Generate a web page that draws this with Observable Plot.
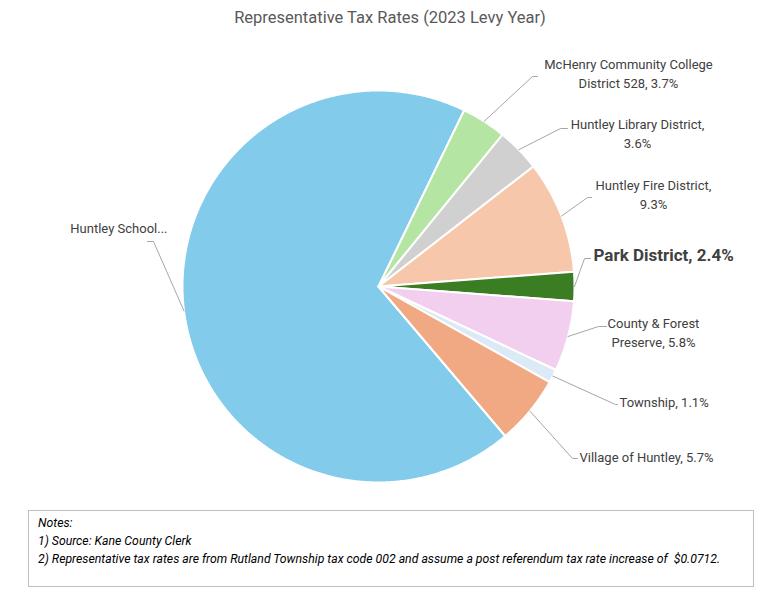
<!DOCTYPE html>
<html><head><meta charset="utf-8">
<script src="https://cdn.jsdelivr.net/npm/d3@7"></script>
<script src="https://cdn.jsdelivr.net/npm/@observablehq/plot@0.6"></script>
<style>
body{margin:0;background:#fff;width:780px;height:600px;position:relative;overflow:hidden;font-family:Roboto,sans-serif;}
#title{position:absolute;top:8px;left:0;width:780px;text-align:center;font-size:16.5px;color:#595959;line-height:20px;}
#chart{position:absolute;top:36px;left:0;}
#notes{position:absolute;left:28px;top:510px;width:726px;height:77px;border:1px solid #bfbfbf;box-sizing:border-box;padding:3px 0 0 9px;}
#notes div{font-family:Roboto,sans-serif;font-style:italic;font-size:12.5px;color:#000;line-height:18px;white-space:nowrap;transform:scaleX(0.98);transform-origin:0 0;}
</style></head><body>
<div id="title">Representative Tax Rates (2023 Levy Year)</div>
<div id="chart"></div>
<div id="notes"><div>Notes:<br>1) Source: Kane County Clerk<br>2) Representative tax rates are from Rutland Township tax code 002 and assume a post referendum tax rate increase of &nbsp;$0.0712.</div></div>
<script>
// ---- data ----
const categories = ["Huntley School District", "McHenry Community College District 528", "Huntley Library District", "Huntley Fire District", "Park District", "County & Forest Preserve", "Township", "Village of Huntley"];
const shares = [68.4, 3.7, 3.6, 9.3, 2.4, 5.8, 1.1, 5.7];
const labels = ["Huntley School...", "McHenry Community College\nDistrict 528, 3.7%", "Huntley Library District,\n3.6%", "Huntley Fire District,\n9.3%", "Park District, 2.4%", "County & Forest\nPreserve, 5.8%", "Township, 1.1%", "Village of Huntley, 5.7%"];

// ---- styles / layout ----
const colors = ["#83CBEB", "#B4E5A2", "#D0D0D0", "#F7C7AC", "#3B7D23", "#F2CEEF", "#DCEAF7", "#F1A983"];
const R = 196;               // pie radius (px)
const startDeg = 139.7;      // angle of first slice, clockwise from 12 o'clock
// label layout, px offsets from pie centre (y downwards): bend, stub end, text anchor, text-anchor type
const layout = [
  {bend: [-225, -45], stub: [-231, -45], text: [-211, -60], anchor: "end"},
  {bend: [154, -210], stub: [159, -210], text: [250, -214], anchor: "middle"},
  {bend: [182, -158], stub: [189, -158], text: [259, -154], anchor: "middle"},
  {bend: [209, -89], stub: [213, -89], text: [275, -93], anchor: "middle"},
  {bend: [206, -28], stub: [212, -28], text: [215, -33], anchor: "start", bold: true},
  {bend: [220, 40], stub: [228, 40], text: [275, 45], anchor: "middle"},
  {bend: [237, 118], stub: [239, 118], text: [241, 114], anchor: "start"},
  {bend: [194, 172], stub: [199, 172], text: [201, 169], anchor: "start"}
];

const W = 780, H = 464, cx = 378, cy = 250;

const arcs = d3.pie().sort(null).value(d => d)
  .startAngle(startDeg * Math.PI / 180)
  .endAngle(startDeg * Math.PI / 180 + 2 * Math.PI)(shares);

// slice polygons (y up)
const slicePts = [];
arcs.forEach((a, i) => {
  slicePts.push({i, x: 0, y: 0, c: colors[i]});
  const n = Math.max(2, Math.ceil((a.endAngle - a.startAngle) / (Math.PI / 360)));
  for (let k = 0; k <= n; k++) {
    const t = a.startAngle + (a.endAngle - a.startAngle) * k / n;
    slicePts.push({i, x: R * Math.sin(t), y: R * Math.cos(t), c: colors[i]});
  }
  slicePts.push({i, x: 0, y: 0, c: colors[i]});
});

// leader lines
const leaderPts = [];
arcs.forEach((a, i) => {
  const m = (a.startAngle + a.endAngle) / 2;
  const L = layout[i];
  leaderPts.push({i, x: R * Math.sin(m), y: R * Math.cos(m)});
  leaderPts.push({i, x: L.bend[0], y: -L.bend[1]});
  leaderPts.push({i, x: L.stub[0], y: -L.stub[1]});
});

const labelData = labels.map((t, i) => ({text: t, x: layout[i].text[0], y: -layout[i].text[1], anchor: layout[i].anchor, bold: !!layout[i].bold}));

const textStyle = {fill: "#404040", fontSize: 13, fontFamily: "Roboto", lineHeight: 1.46};

const chart = Plot.plot({
  width: W, height: H,
  margin: 0,
  x: {domain: [-cx, W - cx], range: [0, W], axis: null},
  y: {domain: [-(H - cy), cy], range: [H, 0], axis: null},
  color: {type: "identity"},
  marks: [
    Plot.line(slicePts, {x: "x", y: "y", z: "i", fill: "c", stroke: "white", strokeWidth: 2, strokeLinejoin: "round"}),
    Plot.line(leaderPts, {x: "x", y: "y", z: "i", stroke: "#a6a6a6", strokeWidth: 1}),
    Plot.text(labelData.filter(d => d.anchor === "middle"), {x: "x", y: "y", text: "text", textAnchor: "middle", ...textStyle}),
    Plot.text(labelData.filter(d => d.anchor === "start" && !d.bold), {x: "x", y: "y", text: "text", textAnchor: "start", ...textStyle}),
    Plot.text(labelData.filter(d => d.anchor === "end"), {x: "x", y: "y", text: "text", textAnchor: "end", ...textStyle}),
    Plot.text(labelData.filter(d => d.bold), {x: "x", y: "y", text: "text", textAnchor: "start", ...textStyle, fontSize: 17, fontWeight: "bold"})
  ]
});
document.getElementById("chart").appendChild(chart);
</script>
</body></html>
